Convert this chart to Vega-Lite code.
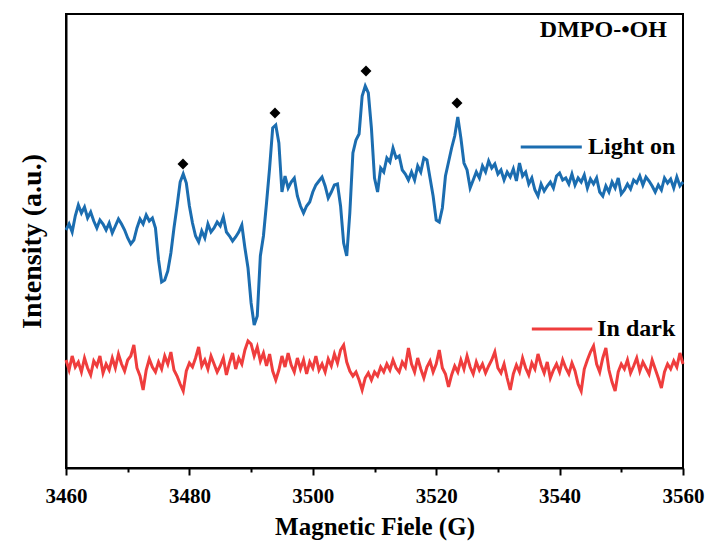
{
"$schema": "https://vega.github.io/schema/vega-lite/v6.json",
"width": 617, "height": 454,
"autosize": {"type": "none"},
"padding": {"left": 66, "top": 14, "right": 29, "bottom": 80},
"background": "white",
"config": {
 "view": {"stroke": "black", "strokeWidth": 2},
 "axis": {"grid": false, "domainColor": "black", "domainWidth": 2, "tickColor": "black", "tickWidth": 2,
  "labelFont": "Liberation Serif", "labelFontWeight": "bold", "labelColor": "black", "labelFontSize": 21,
  "titleFont": "Liberation Serif", "titleFontWeight": "bold", "titleColor": "black"}
},
"datasets": {
 "on": [
{"x":3460.0,"y":238},{"x":3460.5,"y":244},{"x":3461.0,"y":236},{"x":3461.5,"y":252},{"x":3462.0,"y":263},{"x":3462.5,"y":255},{"x":3463.0,"y":261},{"x":3463.5,"y":250},{"x":3464.0,"y":256},{"x":3464.5,"y":247},
{"x":3465.0,"y":240},{"x":3465.5,"y":248},{"x":3466.0,"y":244},{"x":3466.5,"y":238},{"x":3467.0,"y":245},{"x":3467.5,"y":235},{"x":3468.0,"y":242},{"x":3468.5,"y":249},{"x":3469.0,"y":244},{"x":3469.5,"y":238},
{"x":3470.0,"y":230},{"x":3470.5,"y":224},{"x":3471.0,"y":228},{"x":3471.5,"y":240},{"x":3472.0,"y":249},{"x":3472.5,"y":244},{"x":3473.0,"y":253},{"x":3473.5,"y":247},{"x":3474.0,"y":250},{"x":3474.5,"y":240},
{"x":3475.0,"y":208},{"x":3475.5,"y":186},{"x":3476.0,"y":188},{"x":3476.5,"y":197},{"x":3477.0,"y":215},{"x":3477.5,"y":240},{"x":3478.0,"y":262},{"x":3478.5,"y":286},{"x":3479.0,"y":294},{"x":3479.5,"y":285},
{"x":3480.0,"y":262},{"x":3480.5,"y":245},{"x":3481.0,"y":232},{"x":3481.5,"y":226},{"x":3482.0,"y":237},{"x":3482.5,"y":230},{"x":3483.0,"y":244},{"x":3483.5,"y":236},{"x":3484.0,"y":240},{"x":3484.5,"y":246},
{"x":3485.0,"y":242},{"x":3485.5,"y":251},{"x":3486.0,"y":236},{"x":3486.5,"y":232},{"x":3487.0,"y":227},{"x":3487.5,"y":231},{"x":3488.0,"y":236},{"x":3488.5,"y":243},{"x":3489.0,"y":220},{"x":3489.5,"y":200},
{"x":3490.0,"y":165},{"x":3490.5,"y":143},{"x":3491.0,"y":152},{"x":3491.5,"y":212},{"x":3492.0,"y":232},{"x":3492.5,"y":265},{"x":3493.0,"y":300},{"x":3493.5,"y":340},{"x":3494.0,"y":343},{"x":3494.5,"y":325},
{"x":3495.0,"y":276},{"x":3495.5,"y":292},{"x":3496.0,"y":280},{"x":3496.5,"y":286},{"x":3497.0,"y":290},{"x":3497.5,"y":272},{"x":3498.0,"y":262},{"x":3498.5,"y":255},{"x":3499.0,"y":262},{"x":3499.5,"y":266},
{"x":3500.0,"y":276},{"x":3500.5,"y":283},{"x":3501.0,"y":287},{"x":3501.5,"y":291},{"x":3502.0,"y":282},{"x":3502.5,"y":270},{"x":3503.0,"y":276},{"x":3503.5,"y":283},{"x":3504.0,"y":284},{"x":3504.5,"y":262},
{"x":3505.0,"y":225},{"x":3505.5,"y":212},{"x":3506.0,"y":255},{"x":3506.5,"y":315},{"x":3507.0,"y":328},{"x":3507.5,"y":334},{"x":3508.0,"y":372},{"x":3508.5,"y":382},{"x":3509.0,"y":375},{"x":3509.5,"y":340},
{"x":3510.0,"y":290},{"x":3510.5,"y":276},{"x":3511.0,"y":300},{"x":3511.5,"y":296},{"x":3512.0,"y":310},{"x":3512.5,"y":306},{"x":3513.0,"y":320},{"x":3513.5,"y":310},{"x":3514.0,"y":312},{"x":3514.5,"y":298},
{"x":3515.0,"y":294},{"x":3515.5,"y":288},{"x":3516.0,"y":296},{"x":3516.5,"y":288},{"x":3517.0,"y":302},{"x":3517.5,"y":296},{"x":3518.0,"y":310},{"x":3518.5,"y":308},{"x":3519.0,"y":290},{"x":3519.5,"y":272},
{"x":3520.0,"y":248},{"x":3520.5,"y":246},{"x":3521.0,"y":260},{"x":3521.5,"y":292},{"x":3522.0,"y":306},{"x":3522.5,"y":320},{"x":3523.0,"y":332},{"x":3523.5,"y":351},{"x":3524.0,"y":330},{"x":3524.5,"y":305},
{"x":3525.0,"y":298},{"x":3525.5,"y":280},{"x":3526.0,"y":288},{"x":3526.5,"y":296},{"x":3527.0,"y":290},{"x":3527.5,"y":302},{"x":3528.0,"y":296},{"x":3528.5,"y":307},{"x":3529.0,"y":300},{"x":3529.5,"y":304},
{"x":3530.0,"y":294},{"x":3530.5,"y":298},{"x":3531.0,"y":288},{"x":3531.5,"y":296},{"x":3532.0,"y":291},{"x":3532.5,"y":299},{"x":3533.0,"y":287},{"x":3533.5,"y":305},{"x":3534.0,"y":292},{"x":3534.5,"y":296},
{"x":3535.0,"y":284},{"x":3535.5,"y":290},{"x":3536.0,"y":278},{"x":3536.5,"y":272},{"x":3537.0,"y":284},{"x":3537.5,"y":277},{"x":3538.0,"y":282},{"x":3538.5,"y":286},{"x":3539.0,"y":280},{"x":3539.5,"y":292},
{"x":3540.0,"y":295},{"x":3540.5,"y":288},{"x":3541.0,"y":290},{"x":3541.5,"y":284},{"x":3542.0,"y":294},{"x":3542.5,"y":283},{"x":3543.0,"y":290},{"x":3543.5,"y":286},{"x":3544.0,"y":293},{"x":3544.5,"y":280},
{"x":3545.0,"y":289},{"x":3545.5,"y":284},{"x":3546.0,"y":290},{"x":3546.5,"y":276},{"x":3547.0,"y":272},{"x":3547.5,"y":282},{"x":3548.0,"y":276},{"x":3548.5,"y":286},{"x":3549.0,"y":280},{"x":3549.5,"y":290},
{"x":3550.0,"y":274},{"x":3550.5,"y":278},{"x":3551.0,"y":284},{"x":3551.5,"y":279},{"x":3552.0,"y":288},{"x":3552.5,"y":285},{"x":3553.0,"y":292},{"x":3553.5,"y":283},{"x":3554.0,"y":291},{"x":3554.5,"y":287},
{"x":3555.0,"y":282},{"x":3555.5,"y":276},{"x":3556.0,"y":283},{"x":3556.5,"y":278},{"x":3557.0,"y":290},{"x":3557.5,"y":285},{"x":3558.0,"y":289},{"x":3558.5,"y":280},{"x":3559.0,"y":291},{"x":3559.5,"y":282},
{"x":3560.0,"y":286}
 ],
 "dark": [
{"x":3460.0,"y":108},{"x":3460.5,"y":98},{"x":3461.0,"y":112},{"x":3461.5,"y":101},{"x":3462.0,"y":106},{"x":3462.5,"y":96},{"x":3463.0,"y":110},{"x":3463.5,"y":100},{"x":3464.0,"y":93},{"x":3464.5,"y":107},
{"x":3465.0,"y":102},{"x":3465.5,"y":112},{"x":3466.0,"y":95},{"x":3466.5,"y":104},{"x":3467.0,"y":98},{"x":3467.5,"y":110},{"x":3468.0,"y":100},{"x":3468.5,"y":114},{"x":3469.0,"y":104},{"x":3469.5,"y":97},
{"x":3470.0,"y":108},{"x":3470.5,"y":112},{"x":3471.0,"y":123},{"x":3471.5,"y":100},{"x":3472.0,"y":92},{"x":3472.5,"y":78},{"x":3473.0,"y":98},{"x":3473.5,"y":109},{"x":3474.0,"y":101},{"x":3474.5,"y":96},
{"x":3475.0,"y":106},{"x":3475.5,"y":99},{"x":3476.0,"y":112},{"x":3476.5,"y":104},{"x":3477.0,"y":116},{"x":3477.5,"y":98},{"x":3478.0,"y":92},{"x":3478.5,"y":84},{"x":3479.0,"y":77},{"x":3479.5,"y":97},
{"x":3480.0,"y":105},{"x":3480.5,"y":101},{"x":3481.0,"y":110},{"x":3481.5,"y":121},{"x":3482.0,"y":102},{"x":3482.5,"y":108},{"x":3483.0,"y":99},{"x":3483.5,"y":112},{"x":3484.0,"y":104},{"x":3484.5,"y":96},
{"x":3485.0,"y":102},{"x":3485.5,"y":110},{"x":3486.0,"y":93},{"x":3486.5,"y":105},{"x":3487.0,"y":115},{"x":3487.5,"y":99},{"x":3488.0,"y":110},{"x":3488.5,"y":104},{"x":3489.0,"y":118},{"x":3489.5,"y":127},
{"x":3490.0,"y":124},{"x":3490.5,"y":112},{"x":3491.0,"y":121},{"x":3491.5,"y":107},{"x":3492.0,"y":115},{"x":3492.5,"y":102},{"x":3493.0,"y":114},{"x":3493.5,"y":97},{"x":3494.0,"y":88},{"x":3494.5,"y":98},
{"x":3495.0,"y":112},{"x":3495.5,"y":101},{"x":3496.0,"y":115},{"x":3496.5,"y":103},{"x":3497.0,"y":96},{"x":3497.5,"y":110},{"x":3498.0,"y":99},{"x":3498.5,"y":108},{"x":3499.0,"y":94},{"x":3499.5,"y":106},
{"x":3500.0,"y":100},{"x":3500.5,"y":112},{"x":3501.0,"y":98},{"x":3501.5,"y":104},{"x":3502.0,"y":96},{"x":3502.5,"y":109},{"x":3503.0,"y":102},{"x":3503.5,"y":114},{"x":3504.0,"y":105},{"x":3504.5,"y":118},
{"x":3505.0,"y":123},{"x":3505.5,"y":106},{"x":3506.0,"y":97},{"x":3506.5,"y":92},{"x":3507.0,"y":96},{"x":3507.5,"y":88},{"x":3508.0,"y":78},{"x":3508.5,"y":90},{"x":3509.0,"y":95},{"x":3509.5,"y":88},
{"x":3510.0,"y":96},{"x":3510.5,"y":92},{"x":3511.0,"y":101},{"x":3511.5,"y":96},{"x":3512.0,"y":104},{"x":3512.5,"y":98},{"x":3513.0,"y":108},{"x":3513.5,"y":100},{"x":3514.0,"y":96},{"x":3514.5,"y":106},
{"x":3515.0,"y":101},{"x":3515.5,"y":120},{"x":3516.0,"y":104},{"x":3516.5,"y":96},{"x":3517.0,"y":110},{"x":3517.5,"y":99},{"x":3518.0,"y":90},{"x":3518.5,"y":101},{"x":3519.0,"y":107},{"x":3519.5,"y":96},
{"x":3520.0,"y":104},{"x":3520.5,"y":118},{"x":3521.0,"y":100},{"x":3521.5,"y":94},{"x":3522.0,"y":81},{"x":3522.5,"y":93},{"x":3523.0,"y":102},{"x":3523.5,"y":96},{"x":3524.0,"y":108},{"x":3524.5,"y":99},
{"x":3525.0,"y":112},{"x":3525.5,"y":101},{"x":3526.0,"y":94},{"x":3526.5,"y":106},{"x":3527.0,"y":98},{"x":3527.5,"y":104},{"x":3528.0,"y":95},{"x":3528.5,"y":102},{"x":3529.0,"y":108},{"x":3529.5,"y":116},
{"x":3530.0,"y":100},{"x":3530.5,"y":95},{"x":3531.0,"y":104},{"x":3531.5,"y":90},{"x":3532.0,"y":78},{"x":3532.5,"y":94},{"x":3533.0,"y":103},{"x":3533.5,"y":96},{"x":3534.0,"y":110},{"x":3534.5,"y":100},
{"x":3535.0,"y":93},{"x":3535.5,"y":105},{"x":3536.0,"y":99},{"x":3536.5,"y":114},{"x":3537.0,"y":103},{"x":3537.5,"y":95},{"x":3538.0,"y":106},{"x":3538.5,"y":90},{"x":3539.0,"y":98},{"x":3539.5,"y":104},
{"x":3540.0,"y":96},{"x":3540.5,"y":108},{"x":3541.0,"y":100},{"x":3541.5,"y":94},{"x":3542.0,"y":105},{"x":3542.5,"y":97},{"x":3543.0,"y":84},{"x":3543.5,"y":77},{"x":3544.0,"y":99},{"x":3544.5,"y":108},
{"x":3545.0,"y":116},{"x":3545.5,"y":122},{"x":3546.0,"y":104},{"x":3546.5,"y":96},{"x":3547.0,"y":110},{"x":3547.5,"y":120},{"x":3548.0,"y":98},{"x":3548.5,"y":86},{"x":3549.0,"y":77},{"x":3549.5,"y":96},
{"x":3550.0,"y":104},{"x":3550.5,"y":99},{"x":3551.0,"y":108},{"x":3551.5,"y":95},{"x":3552.0,"y":102},{"x":3552.5,"y":110},{"x":3553.0,"y":97},{"x":3553.5,"y":106},{"x":3554.0,"y":100},{"x":3554.5,"y":94},
{"x":3555.0,"y":108},{"x":3555.5,"y":99},{"x":3556.0,"y":90},{"x":3556.5,"y":80},{"x":3557.0,"y":96},{"x":3557.5,"y":104},{"x":3558.0,"y":99},{"x":3558.5,"y":107},{"x":3559.0,"y":101},{"x":3559.5,"y":115},
{"x":3560.0,"y":104}
 ],
 "peaks": [{"x":3478.96,"y":304},{"x":3493.87,"y":355},{"x":3508.62,"y":397},{"x":3523.37,"y":365}],
 "leg": [{"x":3533.7,"x2":3543.6,"y":321,"s":"Light on"},{"x":3535.5,"x2":3545.3,"y":139,"s":"In dark"}],
 "labels": [{"x":3544.6,"y":321,"t":"Light on"},{"x":3546.1,"y":139,"t":"In dark"},{"x":3536.8,"y":438,"t":"DMPO-•OH"}]
},
"layer": [
 {"data": {"name": "dark"}, "mark": {"type": "line", "color": "#ef3d3d", "strokeWidth": 3},
  "encoding": {
   "x": {"field": "x", "type": "quantitative", "scale": {"domain": [3460, 3560], "nice": false},
    "axis": {"title": "Magnetic Fiele (G)", "titleFontSize": 25, "values": [3460,3470,3480,3490,3500,3510,3520,3530,3540,3550,3560],
     "format": "d", "labelExpr": "datum.value % 20 === 0 ? datum.label : ''", "labelOverlap": false, "labelFlush": false,
     "tickSize": {"condition": {"test": "datum.value % 20 === 0", "value": 7}, "value": 4}, "labelPadding": 10, "titlePadding": 8}},
   "y": {"field": "y", "type": "quantitative", "scale": {"domain": [0, 454], "nice": false, "zero": false},
    "axis": {"title": "Intensity (a.u.)", "titleFontSize": 28, "ticks": false, "labels": false, "titlePadding": 20}}
  }},
 {"data": {"name": "on"}, "mark": {"type": "line", "color": "#1b6db0", "strokeWidth": 3},
  "encoding": {"x": {"field": "x", "type": "quantitative"}, "y": {"field": "y", "type": "quantitative"}}},
 {"data": {"name": "peaks"}, "mark": {"type": "point", "shape": "diamond", "filled": true, "color": "black", "opacity": 1, "size": 120},
  "encoding": {"x": {"field": "x", "type": "quantitative"}, "y": {"field": "y", "type": "quantitative"}}},
 {"data": {"name": "leg"}, "mark": {"type": "rule", "strokeWidth": 3},
  "encoding": {"x": {"field": "x", "type": "quantitative"}, "x2": {"field": "x2"}, "y": {"field": "y", "type": "quantitative"},
   "color": {"field": "s", "type": "nominal", "scale": {"domain": ["Light on", "In dark"], "range": ["#1b6db0", "#ef3d3d"]}, "legend": null}}},
 {"data": {"name": "labels"}, "mark": {"type": "text", "font": "Liberation Serif", "fontWeight": "bold", "fontSize": 24, "align": "left", "baseline": "middle", "color": "black"},
  "encoding": {"x": {"field": "x", "type": "quantitative"}, "y": {"field": "y", "type": "quantitative"}, "text": {"field": "t"}}}
]
}
